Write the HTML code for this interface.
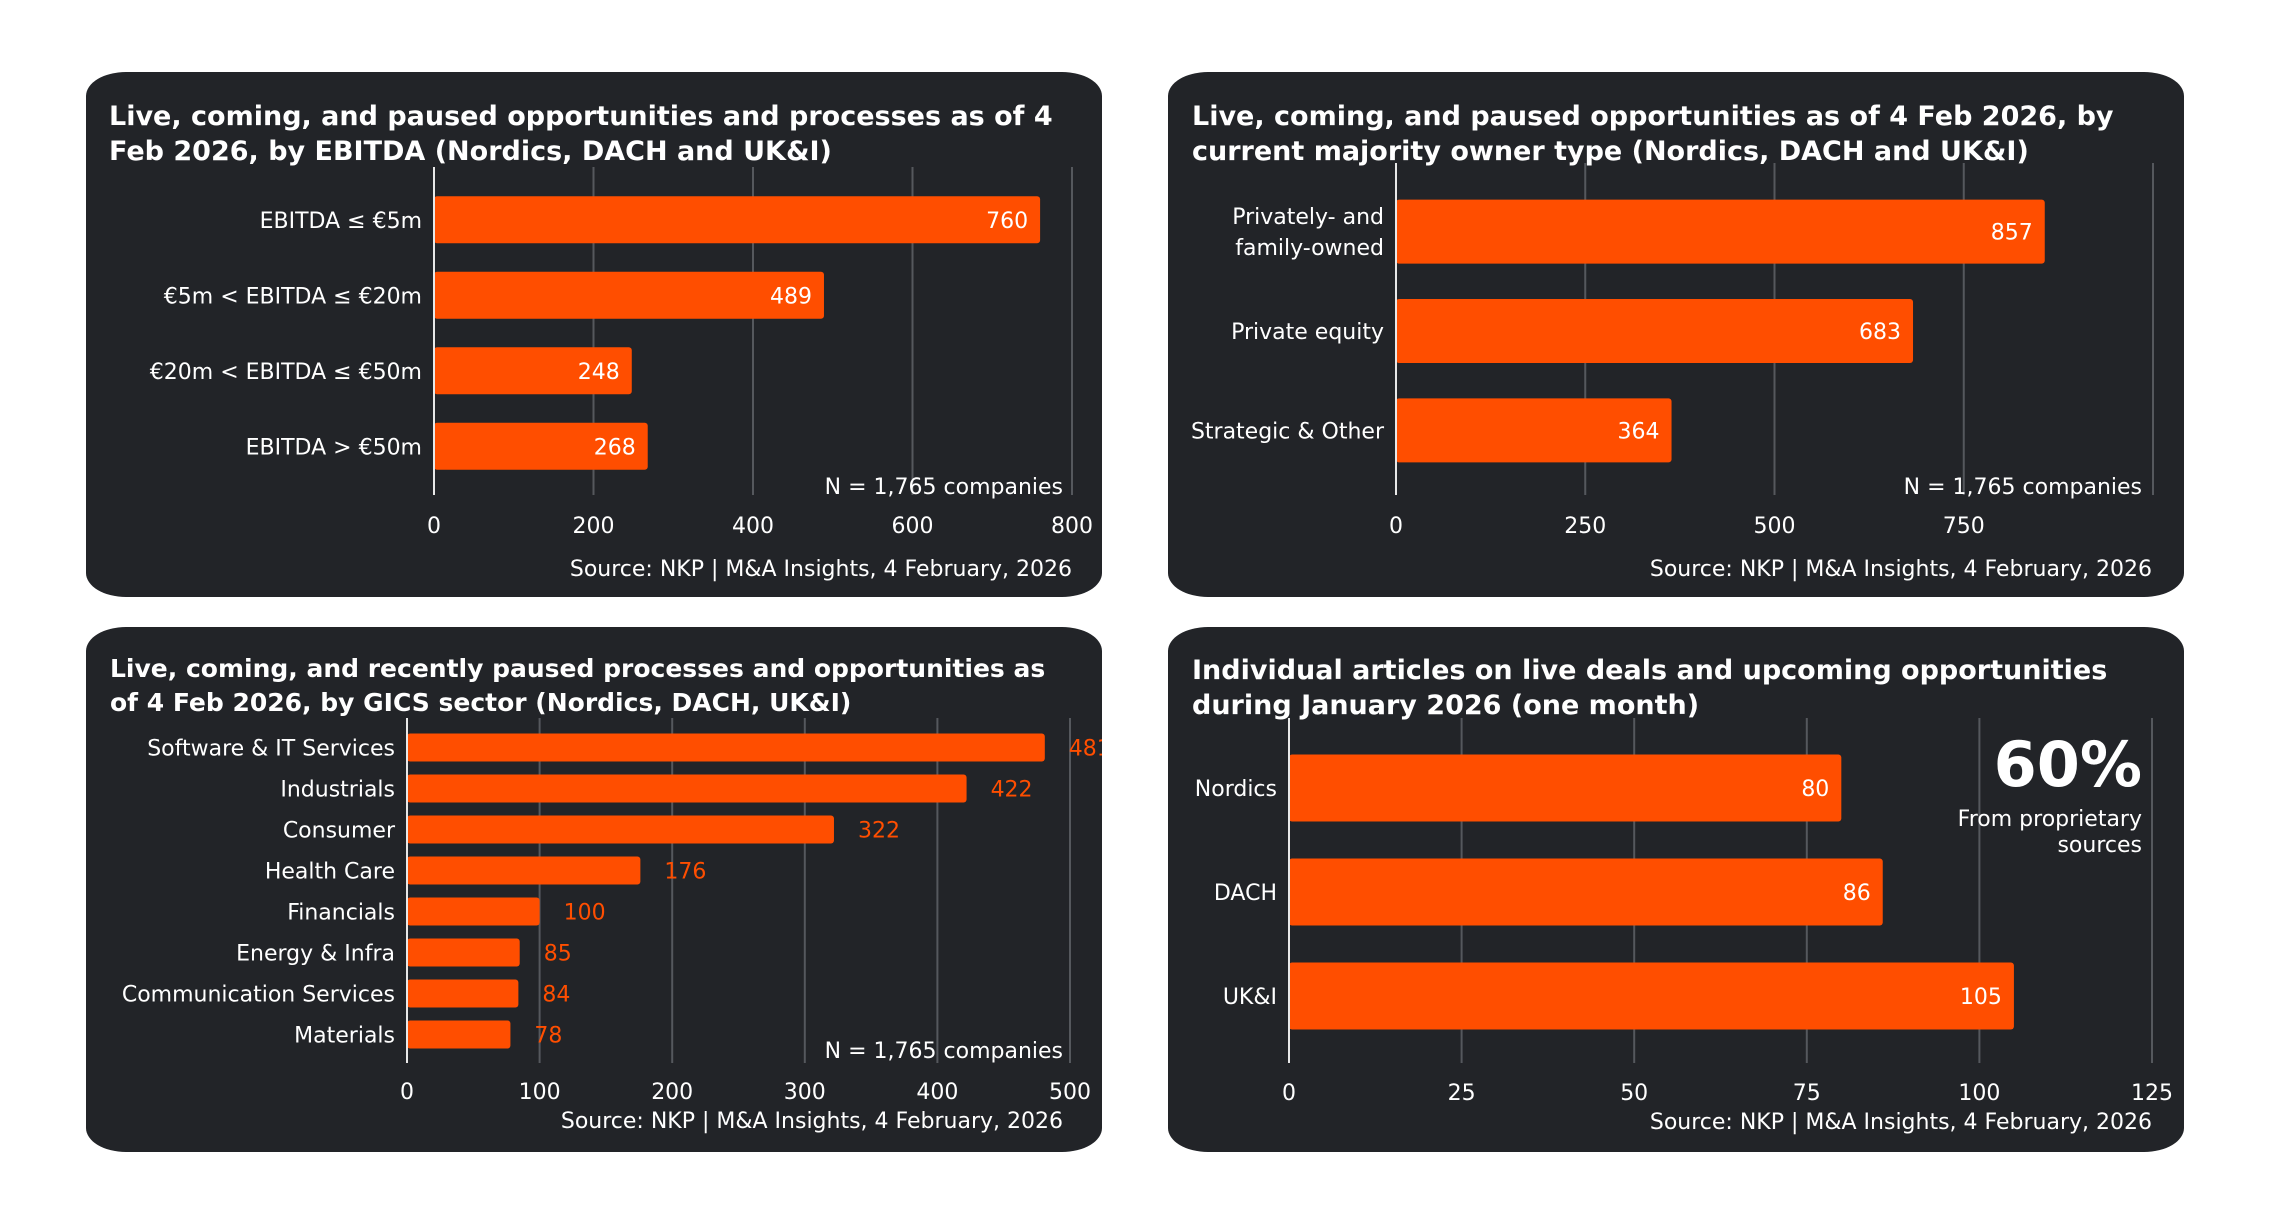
<!DOCTYPE html>
<html><head><meta charset="utf-8">
<style>
html,body{margin:0;padding:0;background:#fff;width:2283px;height:1228px;overflow:hidden}
svg{display:block}
text{font-family:"DejaVu Sans","Liberation Sans",sans-serif}
.t{font-weight:bold;fill:#fff;font-size:27px}
.l{fill:#fff;font-size:22px;font-family:"DejaVu Sans","Liberation Sans",sans-serif}
</style></head>
<body>
<svg id="svg" width="2283" height="1228" viewBox="0 0 2283 1228">
<defs>
<clipPath id="c3"><rect x="86" y="627" width="1016" height="525" rx="40" ry="24"/></clipPath>
</defs>
<g>
<rect x="86" y="72" width="1016" height="525" rx="40" ry="24" fill="#222428"/>
<text class="t" x="109" y="125">Live, coming, and paused opportunities and processes as of 4</text>
<text class="t" x="109" y="160">Feb 2026, by EBITDA (Nordics, DACH and UK&amp;I)</text>
<g id="g1"></g>
<text class="l" x="1063" y="494" text-anchor="end">N = 1,765 companies</text>
<text class="l" x="1072" y="576" text-anchor="end">Source: NKP | M&amp;A Insights, 4 February, 2026</text>
</g>
<g>
<rect x="1168" y="72" width="1016" height="525" rx="40" ry="24" fill="#222428"/>
<text class="t" x="1192" y="125">Live, coming, and paused opportunities as of 4 Feb 2026, by</text>
<text class="t" x="1192" y="160">current majority owner type (Nordics, DACH and UK&amp;I)</text>
<g id="g2"></g>
<text class="l" x="2142" y="494" text-anchor="end">N = 1,765 companies</text>
<text class="l" x="2152" y="576" text-anchor="end">Source: NKP | M&amp;A Insights, 4 February, 2026</text>
</g>
<g>
<rect x="86" y="627" width="1016" height="525" rx="40" ry="24" fill="#222428"/>
<text class="t" x="110" y="677" style="font-size:25px">Live, coming, and recently paused processes and opportunities as</text>
<text class="t" x="110" y="711" style="font-size:25px">of 4 Feb 2026, by GICS sector (Nordics, DACH, UK&amp;I)</text>
<g id="g3" clip-path="url(#c3)"></g>
<text class="l" x="1063" y="1058" text-anchor="end">N = 1,765 companies</text>
<text class="l" x="1063" y="1128" text-anchor="end">Source: NKP | M&amp;A Insights, 4 February, 2026</text>
</g>
<g>
<rect x="1168" y="627" width="1016" height="525" rx="40" ry="24" fill="#222428"/>
<text class="t" x="1192" y="679">Individual articles on live deals and upcoming opportunities</text>
<text class="t" x="1192" y="714">during January 2026 (one month)</text>
<g id="g4"></g>
<text x="2142" y="786" text-anchor="end" style="font-family:'DejaVu Sans',sans-serif;font-weight:900;font-size:62px;fill:#fff">60%</text>
<text class="l" x="2142" y="826" text-anchor="end">From proprietary</text>
<text class="l" x="2142" y="852" text-anchor="end">sources</text>
<text class="l" x="2152" y="1129" text-anchor="end">Source: NKP | M&amp;A Insights, 4 February, 2026</text>
</g>
</svg>
<script>
const ebitdaCats = ["EBITDA ≤ €5m","€5m < EBITDA ≤ €20m","€20m < EBITDA ≤ €50m","EBITDA > €50m"];
const ebitdaVals = [760,489,248,268];
const ebitdaTicks = [0,200,400,600,800];
const ownerCats = [["Privately- and","family-owned"],["Private equity"],["Strategic & Other"]];
const ownerVals = [857,683,364];
const ownerTicks = [0,250,500,750];
const sectorCats = ["Software & IT Services","Industrials","Consumer","Health Care","Financials","Energy & Infra","Communication Services","Materials"];
const sectorVals = [481,422,322,176,100,85,84,78];
const sectorTicks = [0,100,200,300,400,500];
const regionCats = ["Nordics","DACH","UK&I"];
const regionVals = [80,86,105];
const regionTicks = [0,25,50,75,100,125];

const NS="http://www.w3.org/2000/svg";
function mk(parent,tag,attrs,txt){const e=document.createElementNS(NS,tag);for(const k in attrs)e.setAttribute(k,attrs[k]);if(txt!==undefined)e.textContent=txt;parent.appendChild(e);return e;}

function chart(o){
  const g=document.getElementById(o.id);
  const x=v=>o.x0+(v-o.min)/(o.max-o.min)*(o.x1-o.x0);
  const band=(o.yBot-o.yTop)/o.cats.length;
  const y=i=>o.yTop+band*(i+0.5);
  o.grid.forEach(t=>{
    const gl=mk(g,'line',{x1:x(t),x2:x(t),y1:o.gTop,y2:o.gBot,stroke:'#55585d','stroke-width':2});
    
    
  });
  o.ticks.forEach(t=>{
    const tl=mk(g,'text',{x:x(t),y:o.tickY,'text-anchor':'middle',class:'l'},String(t));
    
    
  });
  o.vals.forEach((v,i)=>{
    const r=mk(g,'rect',{x:x(0),y:y(i)-o.bh/2,width:x(v)-x(0),height:o.bh,rx:3,fill:'#ff4e00'});
    
    
    let vt;
    if(o.outside){vt=mk(g,'text',{x:x(v)+24,y:y(i)+8,class:'l',style:'fill:#ff4e00'},String(v));}
    else{vt=mk(g,'text',{x:x(v)-12,y:y(i)+8,'text-anchor':'end',class:'l'},String(v));}
    
    
    const c=o.cats[i];const lines=Array.isArray(c)?c:[c];
    lines.forEach((ln,j)=>{
      const ct=mk(g,'text',{x:o.labelX,y:y(i)+8+(j-(lines.length-1)/2)*31,'text-anchor':'end',class:'l'},ln);
      
      
    });
  });
  const ax=mk(g,'line',{x1:x(0),x2:x(0),y1:o.gTop,y2:o.gBot,stroke:'#e8e8e8','stroke-width':2});
  
  
}
chart({id:'g1',cats:ebitdaCats,vals:ebitdaVals,ticks:ebitdaTicks,grid:[200,400,600,800],min:0,max:800,x0:434,x1:1072,yTop:182,yBot:484,bh:47,gTop:167,gBot:495,tickY:533,labelX:422});
chart({id:'g2',cats:ownerCats,vals:ownerVals,ticks:ownerTicks,grid:[250,500,750,1000],min:0,max:1000,x0:1396,x1:2153,yTop:182,yBot:480,bh:64,gTop:163,gBot:495,tickY:533,labelX:1384});
chart({id:'g3',cats:sectorCats,vals:sectorVals,ticks:sectorTicks,grid:[100,200,300,400,500],min:0,max:500,x0:407,x1:1070,yTop:727,yBot:1055,bh:28,gTop:718,gBot:1063,tickY:1099,labelX:395,outside:true});
chart({id:'g4',cats:regionCats,vals:regionVals,ticks:regionTicks,grid:[25,50,75,100,125],min:0,max:125,x0:1289,x1:2152,yTop:736,yBot:1048,bh:67,gTop:718,gBot:1063,tickY:1100,labelX:1277});
</script>
</body></html>
